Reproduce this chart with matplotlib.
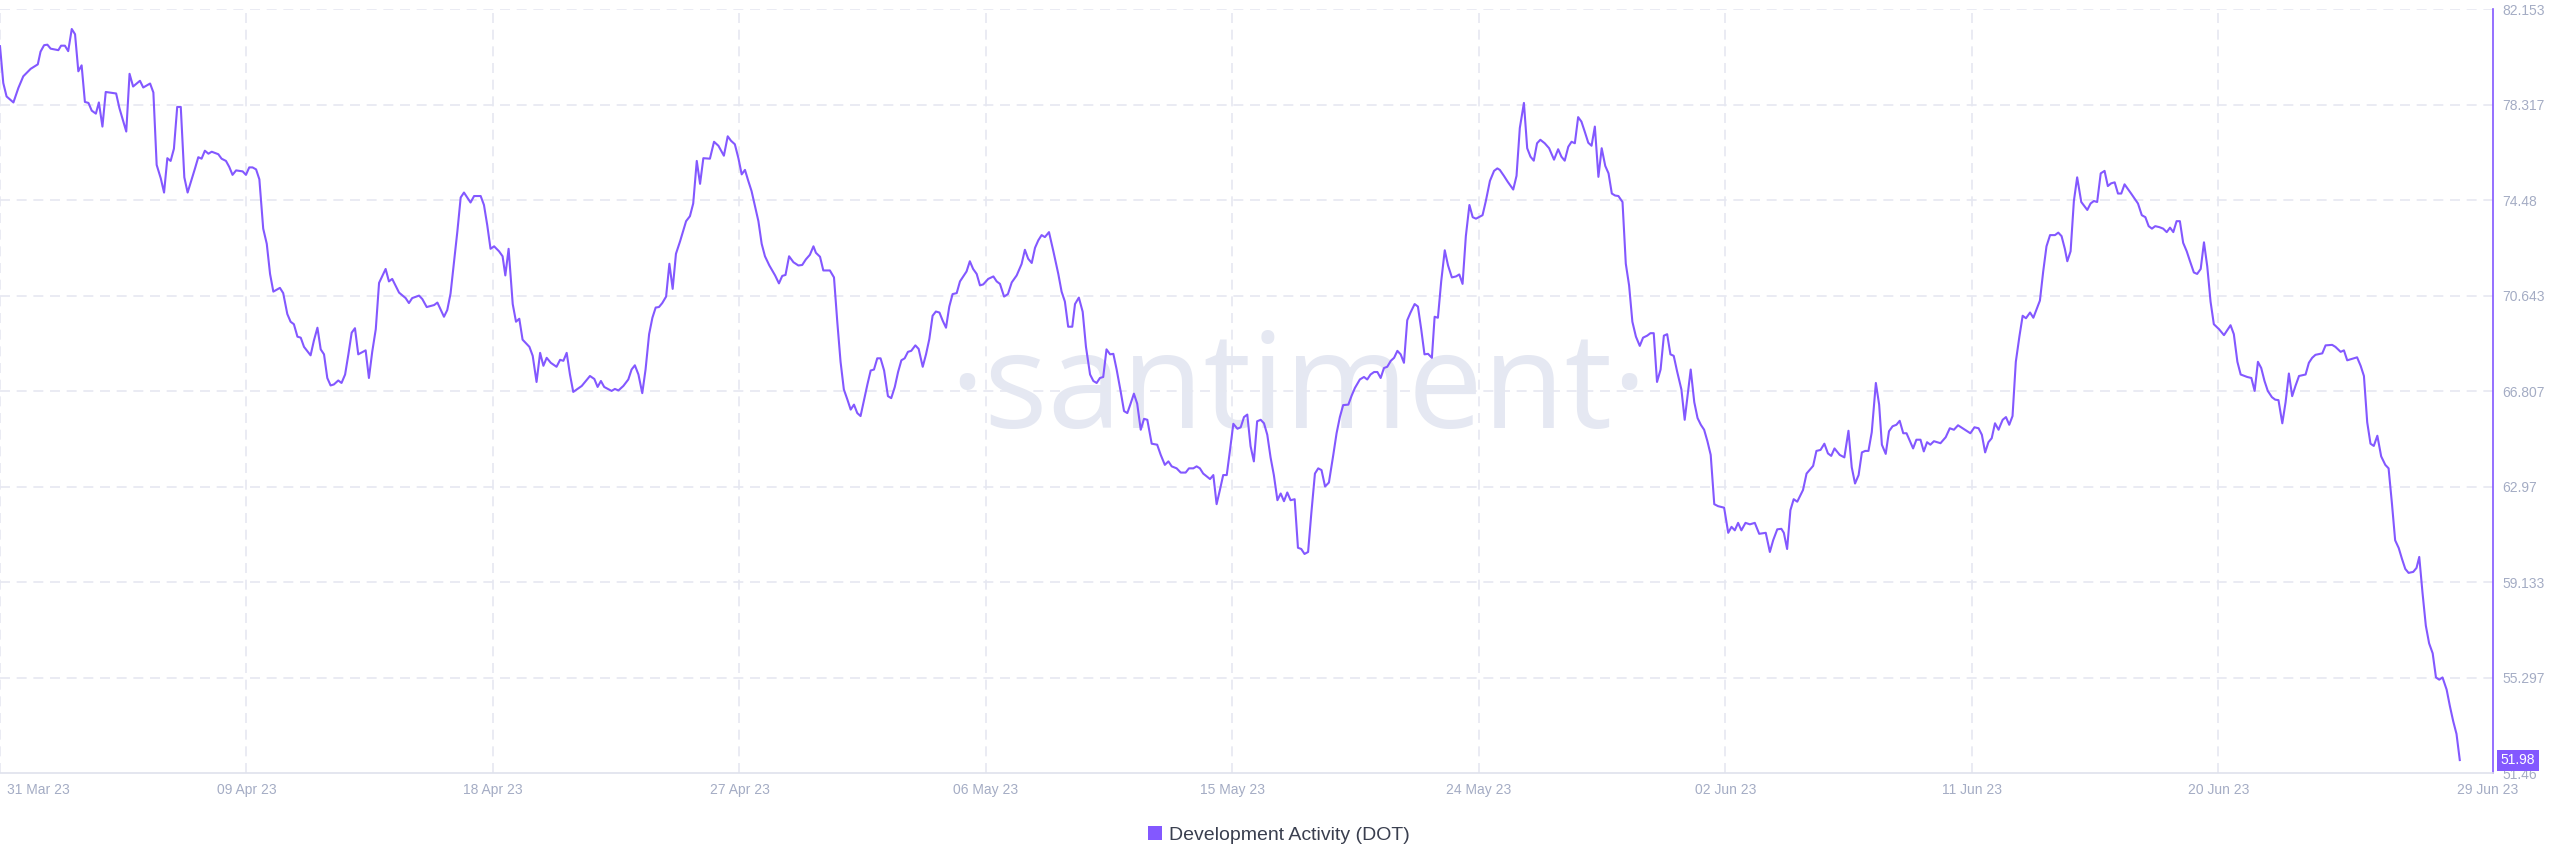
import matplotlib
matplotlib.use("Agg")
import matplotlib.pyplot as plt
import matplotlib.transforms as mtransforms
from matplotlib.patches import Patch
import pandas as pd

plt.rcParams['font.family'] = ['Liberation Sans', 'DejaVu Sans']

start_date = pd.Timestamp('2023-03-31')

# days after 31 Mar 23
day_offset = [
    0.00, 0.12, 0.24, 0.49, 0.67, 0.85, 1.12, 1.38, 1.48, 1.61, 1.73, 1.85, 2.13, 2.23, 2.37, 2.49,
    2.62, 2.74, 2.86, 2.98, 3.10, 3.23, 3.35, 3.50, 3.61, 3.74, 3.86, 4.24, 4.36, 4.61, 4.73, 4.86,
    5.11, 5.23, 5.48, 5.60, 5.72, 5.87, 5.99, 6.11, 6.23, 6.35, 6.47, 6.60, 6.73, 6.85, 7.12, 7.24,
    7.36, 7.48, 7.61, 7.73, 7.97, 8.09, 8.25, 8.37, 8.49, 8.62, 8.86, 8.98, 9.10, 9.22, 9.35, 9.47,
    9.61, 9.74, 9.86, 9.98, 10.22, 10.34, 10.49, 10.61, 10.73, 10.86, 10.98, 11.10, 11.34, 11.46,
    11.59, 11.71, 11.83, 11.95, 12.07, 12.19, 12.35, 12.47, 12.60, 12.72, 12.84, 12.96, 13.08, 13.35,
    13.47, 13.59, 13.72, 13.84, 14.08, 14.20, 14.32, 14.57, 14.81, 14.93, 15.05, 15.30, 15.42, 15.58,
    15.85, 15.97, 16.21, 16.33, 16.45, 16.58, 16.70, 16.82, 16.94, 17.18, 17.31, 17.55, 17.67, 17.79,
    17.91, 18.04, 18.22,
    18.35, 18.45, 18.57, 18.72, 18.84, 18.96, 19.08, 19.33, 19.45, 19.59, 19.72, 19.84, 19.96, 20.11,
    20.32, 20.45, 20.57, 20.69, 20.81, 20.93, 21.24, 21.54, 21.70, 21.82, 21.94, 22.06, 22.33, 22.45,
    22.58, 22.76, 22.94, 23.06, 23.18, 23.31, 23.45, 23.57, 23.70, 23.82, 23.94, 24.06, 24.18, 24.32,
    24.44, 24.56, 24.68, 24.83, 25.05, 25.19, 25.31, 25.44, 25.56, 25.68, 25.92, 26.07, 26.23, 26.43,
    26.57, 26.69, 26.83, 26.96, 27.08, 27.20, 27.32, 27.44, 27.69, 27.81, 27.93, 28.09, 28.30, 28.44,
    28.56, 28.68, 28.81, 28.97, 29.15, 29.29, 29.42, 29.57, 29.70, 29.79, 29.94, 30.06, 30.30, 30.45,
    30.57, 30.69, 30.81, 30.94, 31.06, 31.18, 31.30, 31.42, 31.55, 31.67, 31.79, 31.91, 32.03, 32.15,
    32.28, 32.42, 32.54, 32.67, 32.79, 32.91, 33.03, 33.15, 33.27, 33.42, 33.54, 33.69, 33.81, 33.93,
    34.05, 34.17, 34.30, 34.42, 34.54, 34.66, 34.78, 34.93, 35.05, 35.17, 35.29, 35.41, 35.53, 35.66,
    35.78, 35.90, 36.08, 36.27, 36.39, 36.51,
    36.66, 36.80, 36.94, 37.12, 37.30, 37.42, 37.54, 37.67, 37.79, 37.91, 38.03, 38.15, 38.30, 38.46,
    38.64, 38.76, 38.88, 39.00, 39.15, 39.25, 39.39, 39.53, 39.65, 39.80, 39.92, 40.04, 40.16, 40.28,
    40.40, 40.53, 40.65, 40.77, 40.92, 41.04, 41.16, 41.28, 41.40, 41.52, 41.65, 41.77, 41.89, 42.05,
    42.25, 42.38, 42.53, 42.66, 42.78, 42.96, 43.11, 43.29, 43.41, 43.57, 43.69, 43.81, 43.93, 44.18,
    44.30, 44.42, 44.54, 44.66, 44.79, 44.91, 45.03, 45.18, 45.30, 45.42, 45.54, 45.66, 45.78, 45.90,
    46.03, 46.15, 46.27, 46.39, 46.51, 46.64, 46.76, 46.88, 47.00, 47.12, 47.27, 47.39, 47.51, 47.63,
    47.76, 47.88, 48.01, 48.13, 48.25, 48.38, 48.52, 48.68, 48.80, 48.92, 49.04, 49.23, 49.35, 49.47,
    49.65, 49.80, 49.92, 50.04, 50.17, 50.29, 50.41, 50.53, 50.65, 50.78, 50.90, 51.02, 51.14, 51.26,
    51.38, 51.50, 51.65, 51.77, 51.89, 52.01, 52.14, 52.28, 52.38, 52.50, 52.62, 52.75, 52.87, 53.01,
    53.16, 53.28, 53.40, 53.52, 53.65, 53.77, 53.89, 54.13, 54.25, 54.40, 54.55, 54.67, 54.76,
    54.91, 55.05, 55.25, 55.37, 55.49, 55.64, 55.76, 55.88, 56.00, 56.12, 56.24, 56.40, 56.56, 56.74,
    56.89, 57.01, 57.13, 57.26, 57.38, 57.50, 57.62, 57.74, 57.86, 57.99, 58.11, 58.23, 58.36, 58.48,
    58.61, 58.73, 58.85, 58.97, 59.09, 59.24, 59.36, 59.48, 59.60, 59.73, 59.87, 59.99, 60.14, 60.26,
    60.38, 60.50, 60.63, 60.75, 60.87, 60.99, 61.11, 61.23, 61.39, 61.51, 61.61, 61.73, 61.86, 61.98,
    62.10, 62.22, 62.34, 62.46, 62.59, 62.73, 62.95, 63.10, 63.22, 63.34, 63.46, 63.58, 63.73, 63.89,
    64.07, 64.23, 64.47, 64.62, 64.74, 64.89, 65.04, 65.13, 65.25, 65.37, 65.49, 65.62, 65.83, 65.96,
    66.20, 66.32, 66.47, 66.61, 66.74, 66.86, 66.98, 67.17, 67.34, 67.49, 67.61, 67.73, 67.86, 67.98,
    68.10, 68.22, 68.34, 68.49, 68.61, 68.71, 68.85, 68.97, 69.10, 69.24, 69.36, 69.49, 69.61, 69.85,
    69.97, 70.12, 70.24, 70.36, 70.48, 70.61, 70.85, 71.04, 71.19, 71.34, 71.49, 71.74, 71.94, 72.09,
    72.24, 72.36, 72.48, 72.60, 72.72, 72.84, 72.97,
    73.02, 73.12, 73.24, 73.36, 73.48, 73.60, 73.73, 73.85, 73.97, 74.12, 74.24, 74.48, 74.60, 74.72,
    74.85, 75.03, 75.15, 75.27, 75.39, 75.48, 75.60, 75.72, 75.84, 75.99, 76.21, 76.33, 76.45, 76.57,
    76.70, 76.84, 76.96, 77.08, 77.21, 77.33, 77.45, 77.57, 77.81, 78.06, 78.20, 78.33, 78.45, 78.57,
    78.69, 78.84, 78.98, 79.11, 79.23, 79.35, 79.47, 79.59, 79.71, 79.84, 79.96, 80.10, 80.22, 80.35,
    80.47, 80.59, 80.71, 80.83, 81.02, 81.20, 81.44, 81.56, 81.69, 81.81, 82.05, 82.20, 82.32, 82.44,
    82.56, 82.68, 82.80, 82.95, 83.07, 83.19, 83.33, 83.45, 83.57, 83.69, 83.81, 83.94, 84.18, 84.30,
    84.42, 84.54, 84.79, 84.91, 85.15, 85.27, 85.46, 85.58, 85.70, 86.06, 86.19, 86.31, 86.43, 86.55,
    86.67, 86.80, 86.94, 87.09, 87.21, 87.33, 87.45, 87.58, 87.70, 87.82, 87.94, 88.11, 88.23, 88.33,
    88.45, 88.57, 88.69, 88.82, 88.94, 89.06, 89.18, 89.33, 89.45, 89.57, 89.69, 89.81,
]

activity = [
    80.66, 79.18, 78.64, 78.40, 78.98, 79.45, 79.75, 79.93, 80.44, 80.70, 80.72, 80.56, 80.50, 80.68, 80.68, 80.46,
    81.35, 81.14, 79.65, 79.89, 78.42, 78.38, 78.07, 77.95, 78.40, 77.43, 78.82, 78.76, 78.17, 77.23, 79.55, 79.04,
    79.27, 79.00, 79.16, 78.80, 75.89, 75.35, 74.78, 76.16, 76.05, 76.54, 78.22, 78.22, 75.39, 74.78, 75.75, 76.20,
    76.14, 76.46, 76.34, 76.42, 76.32, 76.14, 76.05, 75.81, 75.49, 75.67, 75.63, 75.49, 75.79, 75.79, 75.71, 75.31,
    73.33, 72.72, 71.51, 70.80, 70.95, 70.74, 69.90, 69.59, 69.49, 68.99, 68.95, 68.58, 68.24, 68.83,
    69.35, 68.48, 68.28, 67.33, 67.03, 67.07, 67.23, 67.13, 67.47, 68.28, 69.15, 69.33, 68.28, 68.44,
    67.33, 68.38, 69.29, 71.15, 71.71, 71.21, 71.31, 70.76, 70.54, 70.34, 70.54, 70.64, 70.50, 70.18,
    70.26, 70.36, 69.79, 70.06, 70.72, 72.02, 73.23, 74.58, 74.78, 74.38, 74.64, 74.64, 74.28, 73.47,
    72.52, 72.62, 72.42,
    72.22, 71.45, 72.52, 70.30, 69.59, 69.71, 68.87, 68.58, 68.22, 67.17, 68.34, 67.82, 68.14, 67.94,
    67.78, 68.06, 68.02, 68.34, 67.47, 66.77, 67.01, 67.41, 67.29, 66.97, 67.21, 66.97, 66.81, 66.89,
    66.83, 67.01, 67.27, 67.67, 67.84, 67.47, 66.72, 67.67, 69.09, 69.75, 70.16, 70.18, 70.34, 70.60,
    71.92, 70.91, 72.32, 72.82, 73.63, 73.83, 74.34, 76.05, 75.13, 76.16, 76.14, 76.82, 76.66, 76.26,
    77.04, 76.86, 76.72, 76.16, 75.51, 75.69, 75.25, 74.84, 73.63, 72.72, 72.22, 71.85, 71.45, 71.13,
    71.43, 71.47, 72.22, 71.98, 71.85, 71.87, 72.09, 72.28, 72.62, 72.36, 72.20, 71.65, 71.65, 71.37,
    69.59, 67.98, 66.87, 66.46, 66.06, 66.26, 65.92, 65.80, 66.46, 67.07, 67.63, 67.67, 68.12, 68.12,
    67.63, 66.60, 66.52, 66.97, 67.57, 68.04, 68.12, 68.38, 68.42, 68.64, 68.50, 67.78, 68.28, 68.89,
    69.83, 70.00, 69.96, 69.63, 69.35, 70.20, 70.70, 70.74, 71.21, 71.41, 71.61, 72.02, 71.71, 71.51,
    71.05, 71.09, 71.31, 71.41, 71.21, 71.11,
    70.60, 70.70, 71.17, 71.45, 71.91, 72.48, 72.12, 71.95, 72.56, 72.86, 73.07, 72.99, 73.19, 72.42,
    71.51, 70.80, 70.40, 69.39, 69.39, 70.30, 70.56, 69.99, 68.58, 67.47, 67.21, 67.13, 67.33, 67.37,
    68.48, 68.28, 68.30, 67.67, 66.77, 66.00, 65.92, 66.30, 66.70, 66.30, 65.25, 65.69, 65.65, 64.69,
    64.65, 64.24, 63.84, 63.98, 63.78, 63.70, 63.53, 63.53, 63.70, 63.70, 63.78, 63.70, 63.49, 63.27,
    63.43, 62.26, 62.83, 63.43, 63.43, 64.44, 65.49, 65.29, 65.35, 65.76, 65.86, 64.59, 63.98, 65.59,
    65.65, 65.51, 65.05, 64.14, 63.43, 62.42, 62.69, 62.38, 62.73, 62.42, 62.46, 60.51, 60.46, 60.26,
    60.34, 61.92, 63.49, 63.70, 63.63, 62.97, 63.13, 64.24, 65.11, 65.76, 66.24, 66.26, 66.62, 66.93,
    67.27, 67.37, 67.27, 67.47, 67.57, 67.57, 67.33, 67.73, 67.78, 68.02, 68.14, 68.42, 68.28, 67.94,
    69.65, 69.96, 70.30, 70.20, 69.29, 68.28, 68.30, 68.14, 69.79, 69.75, 71.21, 72.46, 71.85, 71.37,
    71.41, 71.49, 71.11, 73.03, 74.28, 73.79, 73.73, 73.87, 74.44, 75.25, 75.65, 75.75, 75.69,
    75.45, 75.21, 74.90, 75.45, 77.37, 78.38, 76.56, 76.22, 76.06, 76.76, 76.90, 76.76, 76.56, 76.10,
    76.52, 76.22, 76.06, 76.62, 76.82, 76.76, 77.81, 77.63, 77.23, 76.78, 76.66, 77.43, 75.41, 76.56,
    75.85, 75.55, 74.74, 74.66, 74.64, 74.40, 71.92, 71.05, 69.59, 68.99, 68.62, 68.95, 69.03, 69.13,
    69.13, 67.17, 67.67, 69.03, 69.09, 68.28, 68.22, 67.61, 66.87, 65.65, 66.56, 67.67, 66.36, 65.72,
    65.45, 65.25, 64.79, 64.24, 62.26, 62.18, 62.12, 61.11, 61.35, 61.21, 61.51, 61.21, 61.51, 61.45,
    61.51, 61.07, 61.11, 60.34, 60.81, 61.25, 61.27, 61.11, 60.46, 62.02, 62.46, 62.36, 62.83, 63.49,
    63.80, 64.40, 64.44, 64.69, 64.30, 64.20, 64.50, 64.24, 64.14, 65.21, 63.74, 63.09, 63.43, 64.34,
    64.40, 64.40, 65.15, 67.13, 66.26, 64.65, 64.28, 65.19, 65.39, 65.45, 65.61, 65.11, 65.11, 64.50,
    64.85, 64.85, 64.38, 64.75, 64.65, 64.79, 64.71, 64.95, 65.31, 65.25, 65.43, 65.25, 65.11, 65.35,
    65.31, 65.05, 64.34, 64.75, 64.91, 65.51, 65.25,
    65.39, 65.65, 65.76, 65.45, 65.80, 67.98, 68.99, 69.83, 69.73, 69.96, 69.75, 70.44, 71.61, 72.62,
    73.07, 73.07, 73.17, 73.03, 72.52, 72.02, 72.42, 74.44, 75.39, 74.40, 74.08, 74.34, 74.44, 74.40,
    75.55, 75.65, 75.04, 75.15, 75.19, 74.74, 74.74, 75.11, 74.74, 74.34, 73.87, 73.79, 73.43, 73.33,
    73.43, 73.39, 73.33, 73.19, 73.37, 73.19, 73.63, 73.63, 72.76, 72.42, 72.02, 71.57, 71.51, 71.71,
    72.78, 71.81, 70.40, 69.49, 69.29, 69.05, 69.45, 69.09, 67.98, 67.47, 67.37, 67.33, 66.81, 67.98,
    67.73, 67.21, 66.81, 66.56, 66.46, 66.44, 65.51, 66.36, 67.51, 66.60, 67.01, 67.41, 67.47, 67.94,
    68.14, 68.26, 68.32, 68.64, 68.66, 68.58, 68.38, 68.44, 68.04, 68.16, 67.82, 67.41, 65.55, 64.69,
    64.60, 65.01, 64.18, 63.84, 63.70, 62.32, 60.81, 60.50, 60.06, 59.66, 59.50, 59.54, 59.70, 60.14,
    58.69, 57.38, 56.67, 56.27, 55.30, 55.21, 55.30, 54.81, 54.14, 53.54, 53.03, 51.98,
]

y_ticks = [51.46, 55.297, 59.133, 62.97, 66.807, 70.643, 74.48, 78.317, 82.153]
y_tick_labels = ['51.46', '55.297', '59.133', '62.97', '66.807', '70.643', '74.48', '78.317', '82.153']
x_tick_days = [0, 9, 18, 27, 36, 45, 54, 63, 72, 81, 90]
x_tick_labels = ['31 Mar 23', '09 Apr 23', '18 Apr 23', '27 Apr 23', '06 May 23', '15 May 23',
                 '24 May 23', '02 Jun 23', '11 Jun 23', '20 Jun 23', '29 Jun 23']
last_value = '51.98'
series_name = 'Development Activity (DOT)'

purple = '#8358ff'
tick_color = '#a4acc4'
grid_color = '#e6e8f1'

dates = start_date + pd.to_timedelta(day_offset, unit='D')
tick_dates = start_date + pd.to_timedelta(x_tick_days, unit='D')

fig = plt.figure(figsize=(25.6, 8.67), dpi=100)
ax = fig.add_axes([0.0, 0.1084, 0.9738, 0.8812])

ax.plot(dates, activity, color=purple, linewidth=1.5, zorder=3)

ax.set_xlim(start_date, start_date + pd.Timedelta(days=91.02))
ax.set_ylim(y_ticks[0], y_ticks[-1])

ax.set_yticks(y_ticks)
ax.set_yticklabels(y_tick_labels)
ax.yaxis.tick_right()
ax.set_xticks(tick_dates)
ax.set_xticklabels(x_tick_labels)

ax.tick_params(axis='y', length=0, pad=6.5, labelsize=10, labelcolor=tick_color)
ax.tick_params(axis='x', length=0, pad=7, labelsize=10, labelcolor=tick_color)

ax.grid(True, axis='both', color=grid_color, linewidth=1.2, linestyle=(0, (6, 4)), zorder=0)
ax.xaxis.get_gridlines()[-1].set_visible(False)
ax.yaxis.get_gridlines()[0].set_visible(False)

for side in ['left', 'top']:
    ax.spines[side].set_visible(False)
ax.spines['right'].set_color(purple)
ax.spines['right'].set_linewidth(1.2)
ax.spines['bottom'].set_color('#dfe2ec')
ax.spines['bottom'].set_linewidth(1.2)

# first and last date labels sit inside the plot edges
xlabels = ax.get_xticklabels()
xlabels[0].set_horizontalalignment('left')
xlabels[0].set_transform(xlabels[0].get_transform() +
                         mtransforms.ScaledTranslation(0.07, 0, fig.dpi_scale_trans))
xlabels[-1].set_horizontalalignment('left')
xlabels[-1].set_transform(xlabels[-1].get_transform() +
                          mtransforms.ScaledTranslation(-0.08, 0, fig.dpi_scale_trans))

# watermark
ax.text(0.5207, 0.4516, '\u00b7santiment\u00b7', transform=ax.transAxes, ha='center', va='baseline',
        fontsize=96, color='#e5e8f2', family=['Open Sans', 'DejaVu Sans'], zorder=1)

# last value badge
trans = mtransforms.blended_transform_factory(ax.transAxes, ax.transData)
ax.text(1.0, float(last_value), last_value, transform=trans + mtransforms.ScaledTranslation(
        0.08, 0, fig.dpi_scale_trans), ha='left', va='center', fontsize=10, color='white',
        bbox=dict(boxstyle='square,pad=0.25', fc=purple, ec='none'), clip_on=False, zorder=5)

fig.legend(handles=[Patch(facecolor=purple, edgecolor='none', label=series_name)],
           loc='center', bbox_to_anchor=(0.4996, 0.0369), frameon=False, fontsize=14,
           labelcolor='#3a3f4f', handlelength=0.7, handleheight=0.7, handletextpad=0.4)

fig.savefig('out.png', dpi=100, facecolor='white')
